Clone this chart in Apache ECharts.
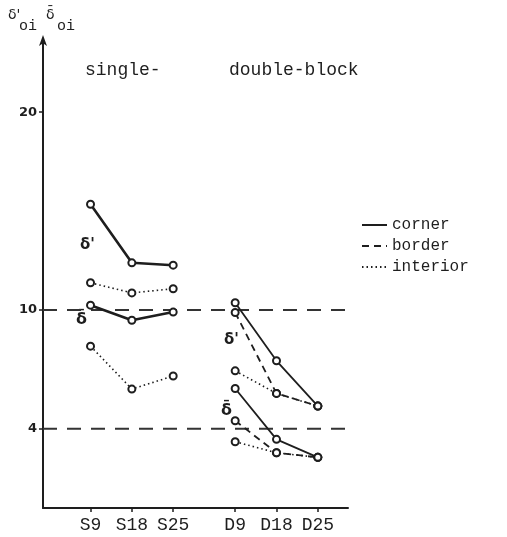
<!DOCTYPE html>
<html><head><meta charset="utf-8">
<script src="https://cdn.jsdelivr.net/npm/echarts@6/dist/echarts.min.js"></script>
<style>html,body{margin:0;padding:0;background:#fff}#c{width:507px;height:537px}</style>
</head><body><div id="c"></div>
<script>
// categories and their positions on the horizontal axis (single block then double block)
const categories = ['S9', 'S18', 'S25', 'D9', 'D18', 'D25'];
const catPos = [1, 2, 3, 4.5, 5.5, 6.5];
const yTicks = [4, 10, 20];
const refLevels = [10, 4];

// single-block values (S9, S18, S25)
const singleCornerDp = [15.35, 12.39, 12.27];
const singleInteriorDp = [11.38, 10.87, 11.08];
const singleCornerDb = [10.25, 9.49, 9.9];
const singleInteriorDb = [8.18, 6.01, 6.67];
// double-block values (D9, D18, D25)
const doubleCornerDp = [10.37, 7.44, 5.15];
const doubleBorderDp = [9.88, 5.79, 5.15];
const doubleInteriorDp = [6.93, 5.79, 5.15];
const doubleCornerDb = [6.04, 3.47, 2.56];
const doubleBorderDb = [4.41, 2.79, 2.56];
const doubleInteriorDb = [3.35, 2.79, 2.56];

const INK = '#1e1e1e';
const FONT = 'Liberation Mono';
const styles = {
  corner: {type: 'solid', width: 1.8},
  cornerThick: {type: 'solid', width: 2.6},
  border: {type: [7, 5], width: 1.8},
  interior: {type: [1.5, 3], width: 1.6}
};
function pts(vals, offset) {
  return vals.map((v, i) => [catPos[offset + i], v]);
}
function mk(name, vals, offset, st) {
  return {
    name: name, type: 'line', data: pts(vals, offset),
    symbol: 'emptyCircle', symbolSize: 7,
    itemStyle: {color: INK, borderWidth: 1.6},
    lineStyle: {color: INK, type: st.type, width: st.width},
    emphasis: {disabled: true}, z: 3
  };
}
const series = [
  mk('corner', singleCornerDp, 0, styles.cornerThick),
  mk('border', doubleBorderDp, 3, styles.border),
  mk('interior', singleInteriorDp, 0, styles.interior),
  mk('corner', singleCornerDb, 0, styles.cornerThick),
  mk('interior', singleInteriorDb, 0, styles.interior),
  mk('corner', doubleCornerDp, 3, styles.corner),
  mk('interior', doubleInteriorDp, 3, styles.interior),
  mk('corner', doubleCornerDb, 3, styles.corner),
  mk('border', doubleBorderDb, 3, styles.border),
  mk('interior', doubleInteriorDb, 3, styles.interior)
];
refLevels.forEach(l => {
  series.push({
    type: 'line', data: [[-0.15, l], [7.45, l]], symbol: 'none', clip: false,
    lineStyle: {color: '#333', type: [14, 10], width: 2}, silent: true, z: 1
  });
});

const chart = echarts.init(document.getElementById('c'));
chart.setOption({
  animation: false,
  backgroundColor: '#fff',
  grid: {left: 43, right: 159, top: 39, bottom: 29},
  legend: {
    orient: 'vertical', left: 356, top: 212, itemWidth: 25, itemHeight: 10, itemGap: 5,
    data: ['corner', 'border', 'interior'],
    textStyle: {fontFamily: FONT, fontSize: 16, color: INK},
    itemStyle: {opacity: 0}, selectedMode: false
  },
  xAxis: {
    type: 'value', min: -0.15, max: 7.23,
    axisLine: {onZero: false, lineStyle: {color: INK, width: 2}},
    axisTick: {customValues: catPos, length: 4, lineStyle: {color: INK, width: 1.5}},
    axisLabel: {
      customValues: catPos, margin: 8, color: INK, fontFamily: FONT, fontSize: 18,
      formatter: v => { const i = catPos.findIndex(p => Math.abs(p - v) < 1e-6); return i >= 0 ? categories[i] : ''; }
    },
    splitLine: {show: false}
  },
  yAxis: {
    type: 'value', min: 0, max: 23.7,
    axisLine: {show: true, onZero: false, symbol: ['none', 'arrow'], symbolSize: [6, 11], symbolOffset: [0, 4], lineStyle: {color: INK, width: 2}},
    axisTick: {show: true, customValues: yTicks, length: 4, lineStyle: {color: INK, width: 1.5}},
    axisLabel: {customValues: yTicks, margin: 6, color: INK, fontFamily: 'DejaVu Sans', fontWeight: 'bold', fontSize: 13},
    splitLine: {show: false}
  },
  graphic: [
    {type: 'text', left: 85, top: 61, style: {text: 'single-', fontFamily: FONT, fontSize: 18, fill: INK}},
    {type: 'text', left: 229, top: 61, style: {text: 'double-block', fontFamily: FONT, fontSize: 18, fill: INK}},
    {type: 'text', left: 8, top: 8, style: {text: "δ'", fontFamily: 'DejaVu Sans', fontSize: 14, fill: INK}},
    {type: 'text', left: 19, top: 19, style: {text: 'oi', fontFamily: FONT, fontSize: 15, fill: INK}},
    {type: 'text', left: 46, top: 8, style: {text: 'δ̄', fontFamily: 'DejaVu Sans', fontSize: 14, fill: INK}},
    {type: 'text', left: 57, top: 19, style: {text: 'oi', fontFamily: FONT, fontSize: 15, fill: INK}},
    {type: 'text', left: 80, top: 238, style: {text: "δ'", fontFamily: 'DejaVu Sans', fontWeight: 'bold', fontSize: 15, fill: INK}},
    {type: 'text', left: 76, top: 312, style: {text: 'δ̄', fontFamily: 'DejaVu Sans', fontWeight: 'bold', fontSize: 16, fill: INK}},
    {type: 'text', left: 224, top: 333, style: {text: "δ'", fontFamily: 'DejaVu Sans', fontWeight: 'bold', fontSize: 15, fill: INK}},
    {type: 'text', left: 221, top: 403, style: {text: 'δ̄', fontFamily: 'DejaVu Sans', fontWeight: 'bold', fontSize: 16, fill: INK}}
  ],
  series: series
});
</script></body></html>
